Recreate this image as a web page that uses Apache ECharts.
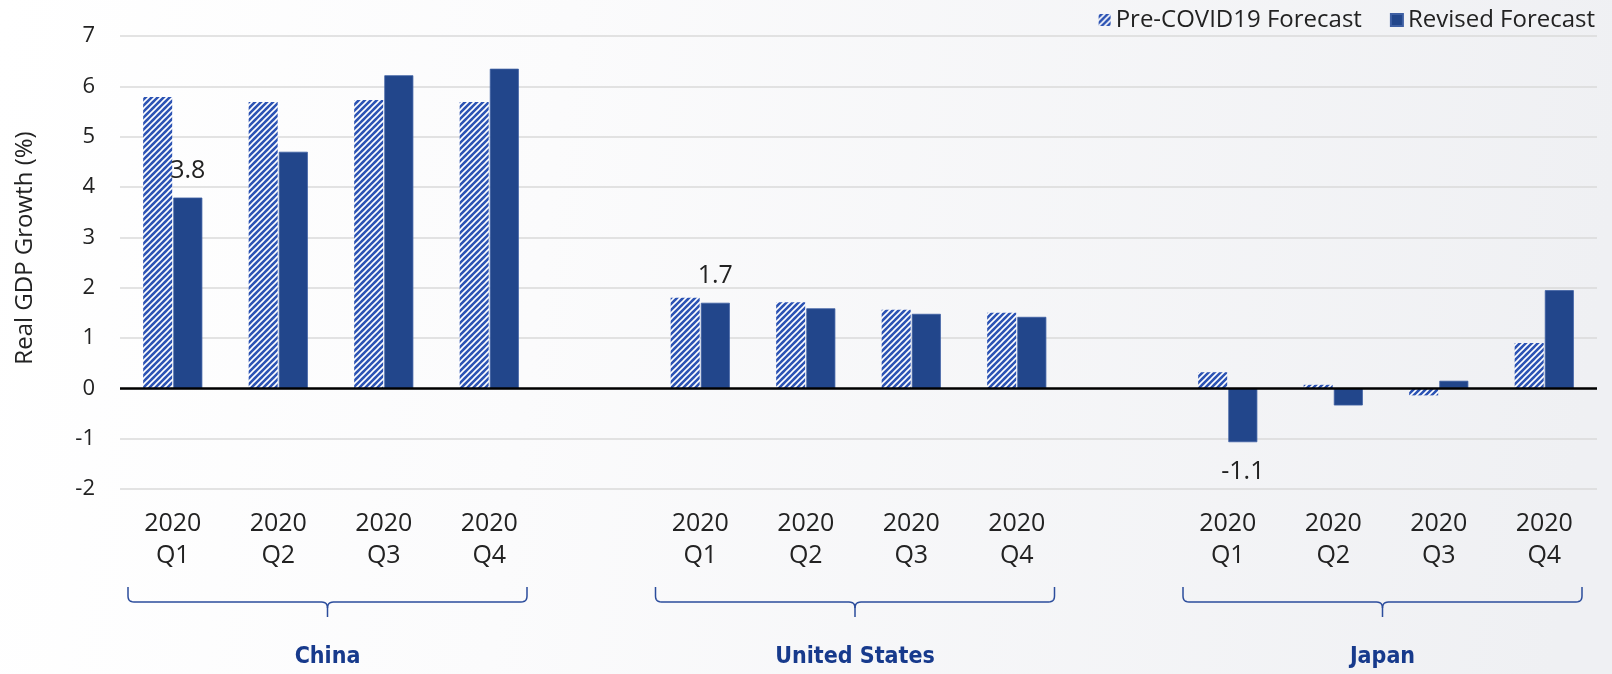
<!DOCTYPE html>
<html>
<head>
<meta charset="utf-8">
<script src="https://cdn.jsdelivr.net/npm/echarts@6/dist/echarts.min.js"></script>
<style>
html,body{margin:0;padding:0;background:#fff;}
#chart{width:1612px;height:674px;}
</style>
</head>
<body>
<div id="chart"></div>
<script>
// ---- data ----
const categories = ['2020\nQ1','2020\nQ2','2020\nQ3','2020\nQ4','',
                    '2020\nQ1','2020\nQ2','2020\nQ3','2020\nQ4','',
                    '2020\nQ1','2020\nQ2','2020\nQ3','2020\nQ4'];
const preCovid = [5.79, 5.69, 5.73, 5.69, null, 1.80, 1.71, 1.56, 1.50, null, 0.32, 0.07, -0.14, 0.90];
const revised  = [3.79, 4.70, 6.22, 6.35, null, 1.70, 1.59, 1.48, 1.42, null, -1.07, -0.34, 0.15, 1.95];
const labeledIdx = [0, 5, 10];
const groupNames = ['China', 'United States', 'Japan'];
const groupRanges = [[0, 3], [5, 8], [10, 13]];
const seriesNames = ['Pre-COVID19 Forecast', 'Revised Forecast'];
const yTicks = { min: -2, max: 7, interval: 1 };

// ---- pattern ----
function makePattern() {
  const c = document.createElement('canvas');
  const s = 6;
  c.width = s; c.height = s;
  const g = c.getContext('2d');
  g.fillStyle = '#2c53b4';
  g.fillRect(0, 0, s, s);
  g.strokeStyle = '#ffffff';
  g.lineWidth = 1.6;
  g.beginPath();
  g.moveTo(-1, s + 1); g.lineTo(s + 1, -1);
  g.moveTo(-1, 1); g.lineTo(1, -1);
  g.moveTo(s - 1, s + 1); g.lineTo(s + 1, s - 1);
  g.stroke();
  return c;
}
const pattern = { image: makePattern(), repeat: 'repeat' };
const FONT = '"Open Sans", "DejaVu Sans", sans-serif';

const chart = echarts.init(document.getElementById('chart'), null, { renderer: 'canvas' });

const revisedData = revised.map((v, i) => {
  if (v === null) return '-';
  const item = { value: v };
  if (labeledIdx.indexOf(i) >= 0) {
    item.label = {
      show: true,
      position: v < 0 ? 'bottom' : 'top',
      distance: v < 0 ? 17 : 14,
      formatter: p => p.value.toFixed(1),
      fontSize: 25, color: '#222', fontFamily: FONT
    };
  }
  return item;
});

const option = {
  animation: false,
  backgroundColor: {
    type: 'linear', x: 0, y: 0, x2: 1, y2: 0.3,
    colorStops: [
      { offset: 0, color: '#ffffff' },
      { offset: 0.35, color: '#fbfbfc' },
      { offset: 1, color: '#eff0f3' }
    ]
  },
  grid: { left: 120, right: 15, top: 36, bottom: 185, containLabel: false },
  legend: {
    data: [
      { name: seriesNames[0], icon: 'rect' },
      { name: seriesNames[1], icon: 'rect' }
    ],
    right: 12, top: 3,
    itemWidth: 12, itemHeight: 12, itemGap: 28,
    textStyle: { fontSize: 24, color: '#222', fontFamily: FONT }
  },
  xAxis: {
    type: 'category',
    data: categories,
    axisLine: { show: false, onZero: false },
    axisTick: { show: false },
    axisLabel: {
      interval: 0, margin: 19, fontSize: 25, lineHeight: 32,
      color: '#222', fontFamily: FONT
    },
    splitLine: { show: false }
  },
  yAxis: {
    type: 'value',
    min: yTicks.min, max: yTicks.max, interval: yTicks.interval,
    axisLine: { show: false },
    axisTick: { show: false },
    axisLabel: { fontSize: 22, color: '#222', margin: 25, fontFamily: FONT },
    splitLine: { lineStyle: { color: '#dadada', width: 1.5 } }
  },
  series: [
    {
      name: seriesNames[0], type: 'bar',
      data: preCovid.map(v => v === null ? '-' : v),
      barWidth: 29, barGap: '4%',
      itemStyle: { color: pattern },
      markLine: {
        silent: true, symbol: 'none', label: { show: false },
        lineStyle: { color: '#000', width: 2.5, type: 'solid' },
        data: [{ yAxis: 0 }]
      },
      z: 2
    },
    {
      name: seriesNames[1], type: 'bar',
      data: revisedData,
      barWidth: 29,
      itemStyle: { color: '#22468b', borderColor: '#3e5fa3', borderWidth: 0.8 },
      z: 2
    }
  ]
};
chart.setOption(option);

// ---- braces + group labels ----
function quad(p0, p1, p2, n) {
  const pts = [];
  for (let k = 1; k <= n; k++) {
    const t = k / n, u = 1 - t;
    pts.push([u * u * p0[0] + 2 * u * t * p1[0] + t * t * p2[0],
              u * u * p0[1] + 2 * u * t * p1[1] + t * t * p2[1]]);
  }
  return pts;
}
function drawGroups() {
  const c0 = chart.convertToPixel({ xAxisIndex: 0 }, 0);
  const c1 = chart.convertToPixel({ xAxisIndex: 0 }, 1);
  const slot = c1 - c0;
  const yBottom = chart.convertToPixel({ yAxisIndex: 0 }, yTicks.min);
  const yTop = yBottom + 98, yLine = yBottom + 113, yTip = yBottom + 128;
  const r = 6;
  const elements = [];
  groupRanges.forEach((g, i) => {
    const left = chart.convertToPixel({ xAxisIndex: 0 }, g[0]) - slot / 2 + 8;
    const right = chart.convertToPixel({ xAxisIndex: 0 }, g[1]) + slot / 2 - 15;
    const cx = (left + right) / 2;
    let ptsL = [[left, yTop], [left, yLine - r]];
    ptsL = ptsL.concat(quad([left, yLine - r], [left, yLine], [left + r, yLine], 6));
    ptsL.push([cx - r, yLine]);
    ptsL = ptsL.concat(quad([cx - r, yLine], [cx, yLine], [cx, yLine + r], 6));
    ptsL.push([cx, yTip]);
    let ptsR = [[right, yTop], [right, yLine - r]];
    ptsR = ptsR.concat(quad([right, yLine - r], [right, yLine], [right - r, yLine], 6));
    ptsR.push([cx + r, yLine]);
    ptsR = ptsR.concat(quad([cx + r, yLine], [cx, yLine], [cx, yLine + r], 6));
    [ptsL, ptsR].forEach(pts => {
      elements.push({
        type: 'polyline', silent: true,
        shape: { points: pts },
        style: { fill: null, stroke: '#2b4c9c', lineWidth: 1.5 }
      });
    });
    elements.push({
      type: 'text', silent: true,
      x: cx, y: yBottom + 168,
      style: {
        text: groupNames[i], align: 'center', verticalAlign: 'middle',
        fontSize: 23, fontWeight: 'bold', fill: '#173a8c',
        fontFamily: '"Liberation Sans Narrow", "DejaVu Sans Condensed", sans-serif'
      }
    });
  });
  elements.push({
    type: 'text', silent: true,
    x: 25, y: 248, rotation: Math.PI / 2,
    style: {
      text: 'Real GDP Growth (%)', align: 'center', verticalAlign: 'middle',
      fontSize: 24, fill: '#222', fontFamily: FONT
    }
  });
  chart.setOption({ graphic: { elements: elements } });
}
drawGroups();
</script>
</body>
</html>
